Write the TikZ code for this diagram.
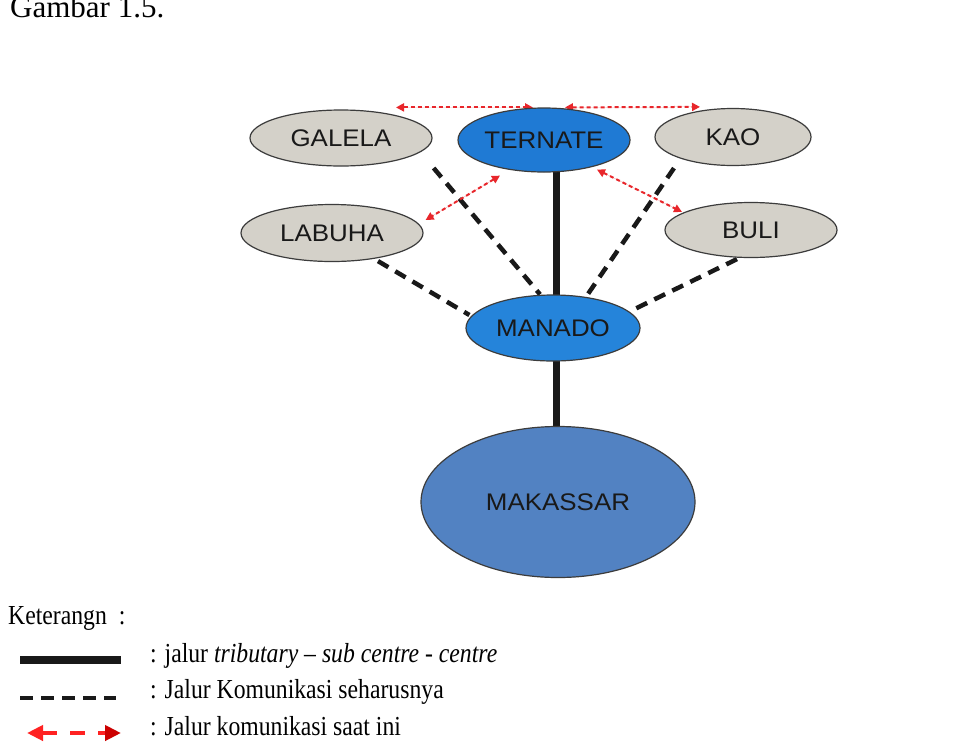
\documentclass[tikz,border=0pt]{standalone}
\usepackage{fontspec}
\setmainfont{Liberation Serif}
\newfontfamily\arialf{Liberation Sans}
\usetikzlibrary{shapes.geometric,arrows.meta,backgrounds}

\definecolor{townfill}{HTML}{D4D1C9}
\definecolor{ternatefill}{HTML}{1F7AD4}
\definecolor{manadofill}{HTML}{2584DA}
\definecolor{makassarfill}{HTML}{5282C2}
\definecolor{rimcol}{HTML}{3C3C3C}
\definecolor{linkred}{HTML}{E8262B}
\definecolor{legred}{HTML}{FF2222}
\definecolor{legdarkred}{HTML}{CC0000}

\newcommand{\placename}[1]{\scalebox{1.08}[1]{\arialf\fontsize{24}{24}\selectfont #1}}
\newcommand{\legendtext}[1]{\scalebox{1}[1.16]{\fontsize{23.7}{24}\selectfont #1}}

\tikzset{
  town/.style={ellipse, draw=rimcol, line width=1.2pt, inner sep=0pt,
    text=black!90, fill=townfill},
  hub/.style={town, fill=ternatefill},
  trunk/.style={line width=7pt, draw=black!90},
  shouldlink/.style={line width=4.5pt, draw=black!90, dash pattern=on 12pt off 8pt},
  nowlink/.style={line width=2pt, color=linkred, draw=linkred, fill=linkred,
    dash pattern=on 4pt off 3pt,
    {Triangle[length=8pt,width=8pt]}-{Triangle[length=8pt,width=8pt]}},
}

\begin{document}
\begin{tikzpicture}[x=1pt,y=-1pt]
\useasboundingbox (0,0) rectangle (953,745);

% caption
\node[anchor=base west, inner sep=0pt, font=\fontsize{31}{31}\selectfont] (caption) at (10,17) {Gambar 1.5.};

% towns
\node[town, minimum width=182pt, minimum height=56pt] (galela) at (341,138) {\placename{GALELA}};
\node[hub, minimum width=172pt, minimum height=64pt] (ternate) at (544,140) {\placename{TERNATE}};
\node[town, minimum width=156pt, minimum height=57pt] (kao) at (733,137) {\placename{KAO}};
\node[town, minimum width=182pt, minimum height=57pt] (labuha) at (332,233) {\placename{LABUHA}};
\node[town, minimum width=172pt, minimum height=55pt] (buli) at (751,230) {\placename{BULI}};
\node[hub, fill=manadofill, minimum width=174pt, minimum height=66pt] (manado) at (553,328) {\placename{MANADO}};
\node[hub, fill=makassarfill, minimum width=274pt, minimum height=151pt] (makassar) at (558,502) {\placename{MAKASSAR}};

% legend
\node[anchor=base west, inner sep=0pt] (keyhead) at (8,624) {\legendtext{Keterangn\ \ :}};

\coordinate (solidA) at (20,660);
\coordinate (solidB) at (121,660);
\draw[line width=8pt, draw=black!90] (solidA) -- (solidB);
\node[anchor=base west, inner sep=0pt] (keyone) at (150,662) {\legendtext{: jalur \textit{tributary} -- \textit{sub centre} - \textit{centre}}};

\coordinate (dashA) at (20,698);
\coordinate (dashB) at (116,698);
\draw[line width=4.5pt, draw=black!90, dash pattern=on 13pt off 8pt] (dashA) -- (dashB);
\node[anchor=base west, inner sep=0pt] (keytwo) at (150,698) {\legendtext{: Jalur Komunikasi seharusnya}};

\coordinate (redA) at (27,733);
\coordinate (redB) at (121,733);
\draw[line width=4.5pt, draw=legred, dash pattern=on 15pt off 13pt,
  {Triangle[length=16pt,width=15pt,fill=legred,color=legred]}-{Triangle[length=16pt,width=15pt,fill=legdarkred,color=legdarkred]}]
  (redA) -- (redB);
\node[anchor=base west, inner sep=0pt] (keythree) at (150,735) {\legendtext{: Jalur komunikasi saat ini}};

\begin{scope}[on background layer]
  \fill[white] (0,0) rectangle (953,745);
  % tributary - sub centre - centre
  \draw[trunk] ([xshift=12pt,yshift=2pt]ternate.south) -- ([xshift=3pt,yshift=-2pt]manado.north);
  \draw[trunk] ([xshift=3pt,yshift=2pt]manado.south) -- ([xshift=-2pt,yshift=-2pt]makassar.north);
  % intended links to Manado
  \draw[shouldlink] ([xshift=1pt,yshift=-30pt]galela.east) -- ([xshift=-13pt]manado.north);
  \draw[shouldlink] ([xshift=46pt,yshift=1pt]labuha.south) -- ([xshift=4pt,yshift=13pt]manado.west);
  \draw[shouldlink] ([xshift=-59pt,yshift=-2pt]kao.south) -- ([xshift=34pt,yshift=-1pt]manado.north);
  \draw[shouldlink] ([xshift=-14pt,yshift=-1pt]buli.south) -- ([xshift=-10pt,yshift=17pt]manado.east);
  % current links via Ternate
  \draw[nowlink] ([xshift=55pt,yshift=2pt]galela.north) -- ([xshift=-11pt]ternate.north);
  \draw[nowlink] ([xshift=21pt]ternate.north) -- ([xshift=-33pt,yshift=1pt]kao.north);
  \draw[nowlink] ([xshift=-44pt,yshift=-3pt]ternate.south) -- ([xshift=2pt,yshift=13pt]labuha.east);
  \draw[nowlink] ([xshift=53pt,yshift=3pt]ternate.south) -- ([xshift=-69pt,yshift=-10pt]buli.north);
\end{scope}
\end{tikzpicture}
\end{document}
